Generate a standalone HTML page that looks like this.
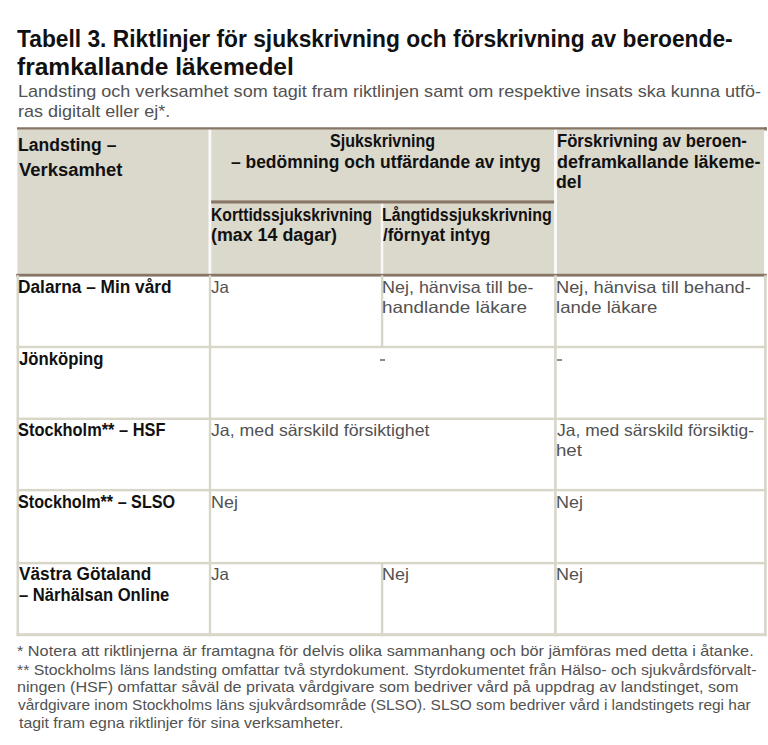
<!DOCTYPE html><html><head><meta charset="utf-8"><style>
html,body{margin:0;padding:0;background:#fff;}
body{width:768px;height:745px;position:relative;overflow:hidden;font-family:"Liberation Sans",sans-serif;}
.bg{position:absolute;left:0;top:0;}
.t{position:absolute;white-space:nowrap;transform-origin:0 0;}
.d{position:absolute;height:2px;width:5px;background:#8c8c8c;}
</style></head><body>
<svg class="bg" width="768" height="745" viewBox="0 0 768 745"><rect x="17.40" y="127.50" width="746.70" height="148.00" fill="#dbd8cc"/><rect x="208.50" y="129.00" width="2.80" height="146.00" fill="#f9f9f9"/><rect x="554.00" y="129.00" width="3.00" height="146.00" fill="#f9f9f9"/><rect x="380.80" y="203.00" width="2.50" height="71.00" fill="#f9f9f9"/><rect x="17.00" y="127.30" width="749.80" height="2.20" fill="#877665"/><rect x="764.20" y="127.30" width="2.60" height="3.20" fill="#877665"/><rect x="211.10" y="200.40" width="343.00" height="3.10" fill="#877665"/><rect x="16.20" y="273.80" width="750.60" height="2.80" fill="#877665"/><rect x="16.55" y="275.20" width="2.50" height="361.00" fill="#d8d5c9"/><rect x="208.80" y="275.20" width="2.40" height="361.00" fill="#d8d5c9"/><rect x="554.10" y="275.20" width="2.60" height="361.00" fill="#d8d5c9"/><rect x="764.10" y="275.20" width="2.60" height="361.00" fill="#d8d5c9"/><rect x="380.90" y="275.20" width="2.40" height="71.80" fill="#d8d5c9"/><rect x="380.90" y="563.00" width="2.40" height="73.20" fill="#d8d5c9"/><rect x="16.55" y="345.80" width="750.15" height="2.40" fill="#d8d5c9"/><rect x="16.55" y="417.60" width="750.15" height="2.40" fill="#d8d5c9"/><rect x="16.55" y="488.90" width="750.15" height="2.40" fill="#d8d5c9"/><rect x="16.55" y="561.90" width="750.15" height="2.40" fill="#d8d5c9"/><rect x="16.55" y="633.20" width="750.15" height="3.00" fill="#d8d5c9"/></svg>
<div class="d" style="left:380px;top:359px"></div>
<div class="d" style="left:557px;top:359px"></div>
<div class="t" id="T1" style="left:17.00px;top:28px;font-size:23.5px;line-height:23.5px;font-weight:700;color:#111;transform:scaleX(0.9688)">Tabell 3. Riktlinjer för sjukskrivning och förskrivning av beroende-</div>
<div class="t" id="T2" style="left:17.00px;top:56px;font-size:23.5px;line-height:23.5px;font-weight:700;color:#111;transform:scaleX(1.0440)">framkallande läkemedel</div>
<div class="t" id="S1" style="left:18.00px;top:83px;font-size:17px;line-height:17px;font-weight:400;color:#525252;transform:scaleX(1.0613)">Landsting och verksamhet som tagit fram riktlinjen samt om respektive insats ska kunna utfö-</div>
<div class="t" id="S2" style="left:18.00px;top:103px;font-size:17px;line-height:17px;font-weight:400;color:#525252;transform:scaleX(1.0606)">ras digitalt eller ej*.</div>
<div class="t" id="H1" style="left:17.51px;top:136px;font-size:18px;line-height:18px;font-weight:700;color:#111;transform:scaleX(0.9741)">Landsting –</div>
<div class="t" id="H2" style="left:18.50px;top:161px;font-size:18px;line-height:18px;font-weight:700;color:#111;transform:scaleX(1.0239)">Verksamhet</div>
<div class="t" id="H3" style="left:329.50px;top:133px;font-size:17.5px;line-height:17.5px;font-weight:700;color:#111;transform:scaleX(0.9160)">Sjukskrivning</div>
<div class="t" id="H4" style="left:231.00px;top:154px;font-size:17.5px;line-height:17.5px;font-weight:700;color:#111;transform:scaleX(0.9955)">– bedömning och utfärdande av intyg</div>
<div class="t" id="H5" style="left:556.50px;top:133px;font-size:17.5px;line-height:17.5px;font-weight:700;color:#111;transform:scaleX(0.9525)">Förskrivning av beroen-</div>
<div class="t" id="H6" style="left:556.50px;top:154px;font-size:17.5px;line-height:17.5px;font-weight:700;color:#111;transform:scaleX(1.0254)">deframkallande läkeme-</div>
<div class="t" id="H7" style="left:556.48px;top:174px;font-size:17.5px;line-height:17.5px;font-weight:700;color:#111;transform:scaleX(1.0112)">del</div>
<div class="t" id="H8" style="left:211.00px;top:207px;font-size:17.5px;line-height:17.5px;font-weight:700;color:#111;transform:scaleX(0.8958)">Korttidssjukskrivning</div>
<div class="t" id="H9" style="left:211.00px;top:227px;font-size:17.5px;line-height:17.5px;font-weight:700;color:#111;transform:scaleX(1.0197)">(max 14 dagar)</div>
<div class="t" id="H10" style="left:382.00px;top:207px;font-size:17.5px;line-height:17.5px;font-weight:700;color:#111;transform:scaleX(0.9140)">Långtidssjukskrivning</div>
<div class="t" id="H11" style="left:383.00px;top:227px;font-size:17.5px;line-height:17.5px;font-weight:700;color:#111;transform:scaleX(0.9692)">/förnyat intyg</div>
<div class="t" id="B1" style="left:17.75px;top:279px;font-size:17.5px;line-height:17.5px;font-weight:700;color:#111;transform:scaleX(0.9871)">Dalarna – Min vård</div>
<div class="t" id="B2" style="left:211.00px;top:279px;font-size:16.5px;line-height:16.5px;font-weight:400;color:#525252;transform:scaleX(1.0248)">Ja</div>
<div class="t" id="B3" style="left:382.00px;top:279px;font-size:16.5px;line-height:16.5px;font-weight:400;color:#525252;transform:scaleX(1.0870)">Nej, hänvisa till be-</div>
<div class="t" id="B4" style="left:382.00px;top:299px;font-size:16.5px;line-height:16.5px;font-weight:400;color:#525252;transform:scaleX(1.1457)">handlande läkare</div>
<div class="t" id="B5" style="left:556.00px;top:279px;font-size:16.5px;line-height:16.5px;font-weight:400;color:#525252;transform:scaleX(1.1063)">Nej, hänvisa till behand-</div>
<div class="t" id="B6" style="left:556.00px;top:299px;font-size:16.5px;line-height:16.5px;font-weight:400;color:#525252;transform:scaleX(1.1274)">lande läkare</div>
<div class="t" id="B7" style="left:19.00px;top:351px;font-size:17.5px;line-height:17.5px;font-weight:700;color:#111;transform:scaleX(0.9545)">Jönköping</div>
<div class="t" id="B10" style="left:18.00px;top:422px;font-size:17.5px;line-height:17.5px;font-weight:700;color:#111;transform:scaleX(0.9359)">Stockholm** – HSF</div>
<div class="t" id="B11" style="left:211.25px;top:422px;font-size:16.5px;line-height:16.5px;font-weight:400;color:#525252;transform:scaleX(1.0729)">Ja, med särskild försiktighet</div>
<div class="t" id="B12" style="left:557.00px;top:422px;font-size:16.5px;line-height:16.5px;font-weight:400;color:#525252;transform:scaleX(1.0581)">Ja, med särskild försiktig-</div>
<div class="t" id="B13" style="left:556.01px;top:442px;font-size:16.5px;line-height:16.5px;font-weight:400;color:#525252;transform:scaleX(1.1300)">het</div>
<div class="t" id="B14" style="left:17.75px;top:494px;font-size:17.5px;line-height:17.5px;font-weight:700;color:#111;transform:scaleX(0.9231)">Stockholm** – SLSO</div>
<div class="t" id="B15" style="left:210.50px;top:494px;font-size:16.5px;line-height:16.5px;font-weight:400;color:#525252;transform:scaleX(1.0870)">Nej</div>
<div class="t" id="B16" style="left:556.00px;top:494px;font-size:16.5px;line-height:16.5px;font-weight:400;color:#525252;transform:scaleX(1.0870)">Nej</div>
<div class="t" id="B17" style="left:18.70px;top:566px;font-size:17.5px;line-height:17.5px;font-weight:700;color:#111;transform:scaleX(0.9850)">Västra Götaland</div>
<div class="t" id="B18" style="left:19.00px;top:587px;font-size:17.5px;line-height:17.5px;font-weight:700;color:#111;transform:scaleX(0.9482)">– Närhälsan Online</div>
<div class="t" id="B19" style="left:211.00px;top:566px;font-size:16.5px;line-height:16.5px;font-weight:400;color:#525252;transform:scaleX(1.0248)">Ja</div>
<div class="t" id="B20" style="left:382.00px;top:566px;font-size:16.5px;line-height:16.5px;font-weight:400;color:#525252;transform:scaleX(1.0870)">Nej</div>
<div class="t" id="B21" style="left:556.00px;top:566px;font-size:16.5px;line-height:16.5px;font-weight:400;color:#525252;transform:scaleX(1.0870)">Nej</div>
<div class="t" id="F1" style="left:17.00px;top:644px;font-size:14.5px;line-height:14.5px;font-weight:400;color:#525252;transform:scaleX(1.1215)">* Notera att riktlinjerna är framtagna för delvis olika sammanhang och bör jämföras med detta i åtanke.</div>
<div class="t" id="F2" style="left:17.00px;top:663px;font-size:14.5px;line-height:14.5px;font-weight:400;color:#525252;transform:scaleX(1.0936)">** Stockholms läns landsting omfattar två styrdokument. Styrdokumentet från Hälso- och sjukvårdsförvalt-</div>
<div class="t" id="F3" style="left:17.00px;top:680px;font-size:14.5px;line-height:14.5px;font-weight:400;color:#525252;transform:scaleX(1.1147)">ningen (HSF) omfattar såväl de privata vårdgivare som bedriver vård på uppdrag av landstinget, som</div>
<div class="t" id="F4" style="left:18.00px;top:698px;font-size:14.5px;line-height:14.5px;font-weight:400;color:#525252;transform:scaleX(1.0645)">vårdgivare inom Stockholms läns sjukvårdsområde (SLSO). SLSO som bedriver vård i landstingets regi har</div>
<div class="t" id="F5" style="left:18.50px;top:716px;font-size:14.5px;line-height:14.5px;font-weight:400;color:#525252;transform:scaleX(1.0906)">tagit fram egna riktlinjer för sina verksamheter.</div>
</body></html>
